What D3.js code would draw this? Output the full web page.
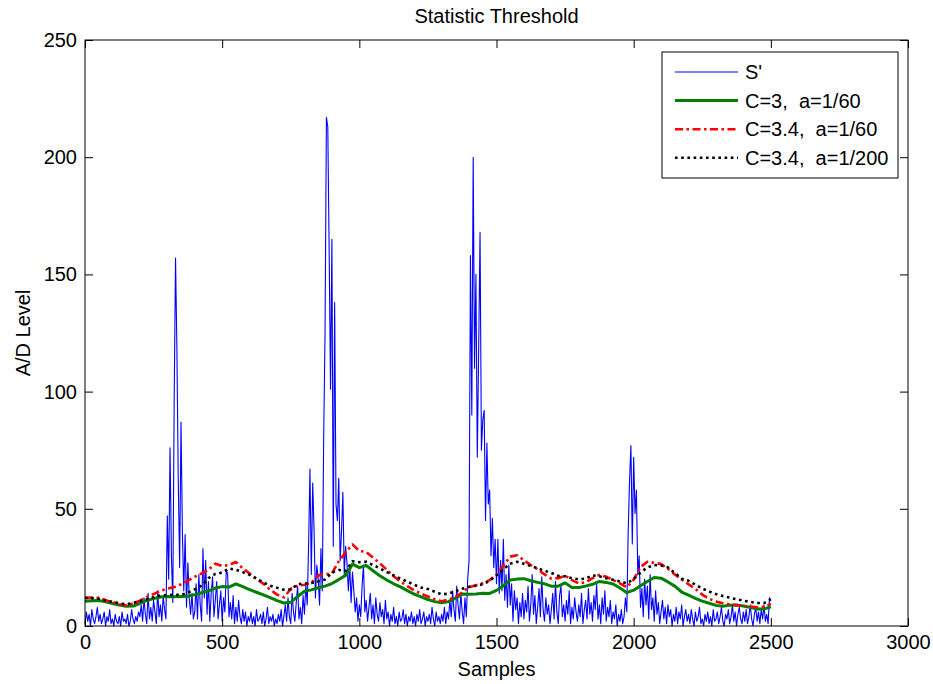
<!DOCTYPE html>
<html>
<head>
<meta charset="utf-8">
<script src="https://cdn.jsdelivr.net/npm/d3@7"></script>
<style>
  body { margin: 0; background: #fff; }
  text { font-family: "Liberation Sans", Arial, Helvetica, sans-serif; }
</style>
</head>
<body>
<svg id="chart" width="933" height="684"></svg>
<script>
// S' signal, one value every 5 samples (0..2500)
const signalStep = 5;
const signal = [
  1,6,2,5,0,7,3,1,4,8,2,5,1,3,6,0,4,2,7,1,
  3,0,5,2,1,4,0,6,2,3,1,5,0,2,7,3,1,4,2,6,
  4,9,2,12,5,1,14,3,8,2,11,6,1,15,4,9,2,13,7,3,
  47,20,76,30,10,95,157,118,62,25,87,40,15,39,8,27,12,5,14,3,
  6,18,3,22,9,2,33,12,28,5,19,2,14,21,4,11,19,3,9,15,
  2,12,6,24,22,4,10,3,13,1,8,2,11,4,1,7,2,6,0,4,
  2,6,1,4,0,7,2,3,5,1,6,0,3,8,1,4,2,5,0,3,
  1,5,2,7,0,4,9,2,12,4,1,14,6,2,10,17,3,8,1,13,
  5,18,9,34,67,22,61,41,12,26,20,9,33,15,80,125,217,213,160,101,
  165,34,138,52,45,63,28,40,57,22,34,27,15,26,10,23,15,6,12,2,
  9,4,17,26,6,11,2,8,14,3,9,1,12,5,2,10,4,7,1,11,
  3,6,0,5,2,8,1,4,0,6,2,3,7,1,5,0,4,2,6,1,
  4,0,5,2,7,1,3,6,0,4,2,5,1,8,3,0,6,2,4,1,
  5,2,8,1,6,3,11,4,15,7,2,17,9,3,14,6,1,12,4,20,
  28,158,90,200,110,150,72,118,168,75,88,92,45,78,52,58,30,46,25,37,
  18,37,14,28,15,37,11,22,8,26,9,18,2,15,7,12,1,10,4,14,
  3,11,6,17,2,9,22,5,13,1,8,16,4,21,7,2,12,5,9,1,
  7,14,3,19,6,1,13,17,4,9,2,11,5,15,1,8,3,12,6,2,
  9,4,14,1,7,11,3,16,5,10,2,13,7,18,3,9,1,12,5,15,
  2,8,4,11,1,6,3,9,0,5,2,7,1,4,12,6,40,62,77,35,
  72,48,58,22,30,8,16,4,20,9,17,3,22,7,12,2,15,5,10,1,
  6,11,3,8,1,9,4,7,0,5,2,8,1,6,3,9,0,4,7,2,
  5,1,7,3,0,6,2,4,8,1,3,0,5,2,6,1,4,0,7,2,
  3,6,1,4,8,2,0,5,3,7,1,4,9,2,6,0,5,8,3,1,
  6,2,7,1,4,9,3,0,5,8,2,6,1,7,3,9,2,5,1,12,11
];

// Thresholds, one value every 25 samples (0..2500)
const thresholdStep = 25;
const thrC3a60 = [
  10.6,10.8,10.9,10.3,9.6,8.9,8.4,8.5,9.6,10.9,
  11.7,12.4,12.6,12.5,12.6,12.7,13.4,14.2,15.0,16.2,
  16.8,16.6,18.0,16.8,15.5,14.4,13.3,12.1,10.8,9.8,
  10.1,12.6,14.8,15.4,16.3,17.0,18.1,19.8,21.6,26.4,
  24.9,25.8,23.6,21.4,19.6,18.0,16.7,15.1,13.6,12.4,
  11.3,10.4,9.9,10.4,11.9,13.6,13.5,13.7,14.0,13.9,
  15.2,17.2,19.6,20.0,20.2,19.3,18.6,18.0,17.0,17.0,
  18.4,16.4,16.4,17.0,17.8,19.0,18.6,17.9,16.2,14.2,
  15.3,17.2,19.0,20.7,20.4,18.8,17.0,14.5,13.2,11.8,
  10.6,9.7,8.8,8.4,8.9,9.0,8.5,7.9,7.3,7.2,
  8.2
];
const thrC34a60 = [
  12.0,12.1,12.0,11.0,10.2,9.3,8.8,9.6,10.8,12.4,
  13.6,15.0,15.9,16.6,17.8,19.3,21.0,22.4,24.0,26.6,
  25.6,26.0,27.3,24.6,22.4,20.2,18.0,15.5,13.4,12.2,
  15.8,17.2,17.6,18.4,21.6,22.0,22.4,27.6,31.4,34.8,
  32.0,31.6,29.2,26.7,24.0,21.2,19.0,17.0,15.2,13.8,
  12.6,11.4,10.6,11.2,12.4,14.3,16.6,17.4,18.2,19.6,
  21.8,25.8,29.6,30.2,28.0,26.0,24.2,22.0,20.2,20.4,
  21.5,19.6,18.2,18.6,20.4,21.8,21.0,19.6,18.2,16.5,
  19.8,25.2,27.4,27.0,26.4,24.4,22.0,19.8,17.8,15.8,
  13.4,11.6,10.4,9.7,9.2,8.9,8.6,8.3,8.0,8.2,
  9.4
];
const thrC34a200 = [
  12.0,11.9,11.6,11.0,10.3,9.7,9.2,9.8,10.6,11.4,
  12.3,13.0,13.2,13.3,13.3,14.2,15.6,17.2,20.4,22.2,
  22.8,24.5,24.0,23.0,21.8,20.2,18.6,17.2,16.3,15.5,
  15.6,17.8,18.1,18.3,19.0,19.8,22.8,23.9,23.5,27.6,
  27.2,27.4,26.0,24.6,23.0,21.6,20.2,18.9,17.6,16.4,
  15.8,14.6,13.5,13.8,14.8,15.9,16.7,17.2,17.8,19.3,
  21.6,24.2,26.6,27.4,26.6,25.6,24.6,23.6,22.6,21.4,
  21.2,20.4,19.9,20.2,21.6,21.2,20.4,19.7,19.0,18.2,
  20.0,22.8,25.0,26.0,25.8,25.0,22.6,20.2,19.3,17.6,
  16.0,14.7,13.6,12.8,12.1,11.4,10.8,10.3,9.8,9.8,
  11.4
];

const xTicks = [0, 500, 1000, 1500, 2000, 2500, 3000];
const yTicks = [0, 50, 100, 150, 200, 250];
const legendLabels = ["S'", "C=3,  a=1/60", "C=3.4,  a=1/60", "C=3.4,  a=1/200"];

// ---- layout ----
const svg = d3.select("#chart");
const plot = { left: 85, top: 40, right: 908, bottom: 626 };
const W = plot.right - plot.left, H = plot.bottom - plot.top;
const fontSize = 20;

const x = d3.scaleLinear().domain([0, 3000]).range([0, W]);
const y = d3.scaleLinear().domain([0, 250]).range([H, 0]);

const g = svg.append("g").attr("transform", `translate(${plot.left},${plot.top})`);

const styles = [
  { color: "#0000ff", width: 1.1, dash: null },
  { color: "#008000", width: 3, dash: null },
  { color: "#ff0000", width: 2.6, dash: "8,3.5,2.5,3.5" },
  { color: "#000000", width: 2.6, dash: "2.6,3.6" }
];

const series = [
  { values: signal, step: signalStep },
  { values: thrC3a60, step: thresholdStep },
  { values: thrC34a60, step: thresholdStep },
  { values: thrC34a200, step: thresholdStep }
];

const line = step => d3.line()
  .x((d, i) => x(i * step))
  .y(d => y(d));

series.forEach((s, k) => {
  const st = styles[k];
  g.append("path")
    .datum(s.values)
    .attr("fill", "none")
    .attr("stroke", st.color)
    .attr("stroke-width", st.width)
    .attr("stroke-linejoin", "round")
    .attr("stroke-dasharray", st.dash)
    .attr("d", line(s.step));
});

// ---- axes (ticks pointing inward on all four sides) ----
const tick = 8;
const fmt = d3.format("d");
const styleAxis = sel => {
  sel.select(".domain").remove();
  sel.selectAll(".tick line").attr("stroke", "#000");
  sel.selectAll("text").attr("fill", "#000").style("font-size", fontSize + "px");
};

g.append("g").attr("transform", `translate(0,${H})`)
  .call(d3.axisBottom(x).tickValues(xTicks).tickFormat(fmt).tickSizeInner(-tick).tickSizeOuter(0).tickPadding(9))
  .call(styleAxis);
g.append("g")
  .call(d3.axisTop(x).tickValues(xTicks).tickSizeInner(-tick).tickSizeOuter(0).tickFormat(""))
  .call(styleAxis);
g.append("g")
  .call(d3.axisLeft(y).tickValues(yTicks).tickFormat(fmt).tickSizeInner(-tick).tickSizeOuter(0).tickPadding(8))
  .call(styleAxis);
g.append("g").attr("transform", `translate(${W},0)`)
  .call(d3.axisRight(y).tickValues(yTicks).tickSizeInner(-tick).tickSizeOuter(0).tickFormat(""))
  .call(styleAxis);

g.append("rect")
  .attr("width", W).attr("height", H)
  .attr("fill", "none").attr("stroke", "#000").attr("stroke-width", 1);

// ---- titles ----
svg.append("text")
  .attr("x", plot.left + W / 2).attr("y", 23)
  .attr("text-anchor", "middle").style("font-size", fontSize + "px")
  .text("Statistic Threshold");
svg.append("text")
  .attr("x", plot.left + W / 2).attr("y", 676)
  .attr("text-anchor", "middle").style("font-size", fontSize + "px")
  .text("Samples");
svg.append("text")
  .attr("transform", `translate(30,${plot.top + H / 2}) rotate(-90)`)
  .attr("text-anchor", "middle").style("font-size", fontSize + "px")
  .text("A/D Level");

// ---- legend ----
const lg = svg.append("g").attr("transform", "translate(662,52)");
lg.append("rect")
  .attr("width", 236).attr("height", 126)
  .attr("fill", "#fff").attr("stroke", "#000").attr("stroke-width", 1);
legendLabels.forEach((label, k) => {
  const st = styles[k];
  const yy = 20 + k * 28.6;
  lg.append("line")
    .attr("x1", 13).attr("x2", 76).attr("y1", yy).attr("y2", yy)
    .attr("stroke", st.color).attr("stroke-width", st.width)
    .attr("stroke-dasharray", st.dash);
  lg.append("text")
    .attr("x", 83).attr("y", yy).attr("dy", "0.35em")
    .style("font-size", fontSize + "px")
    .style("white-space", "pre")
    .text(label);
});
</script>
</body>
</html>
